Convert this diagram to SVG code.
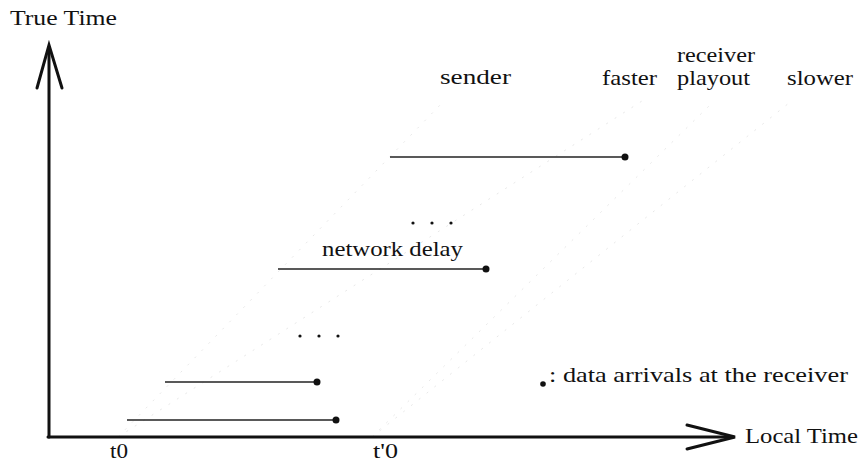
<svg xmlns="http://www.w3.org/2000/svg" width="865" height="463" viewBox="0 0 865 463">
<style>
text{font-family:"Liberation Serif","Times New Roman",serif;font-size:21px;fill:#111}
.axis{stroke:#111;stroke-width:3;fill:none;stroke-linecap:round;stroke-linejoin:miter}
.seg{stroke:#222;stroke-width:1.4;fill:none}
.faint{stroke:#e2e2e2;stroke-width:0.8;fill:none;stroke-dasharray:2 8}
.dot{fill:#111}
</style>
<rect width="865" height="463" fill="#fff"/>
<g id="connectors">
<line class="faint" x1="118" y1="437" x2="443" y2="102"/>
<line class="faint" x1="118" y1="437" x2="642" y2="101"/>
<line class="faint" x1="372" y1="437" x2="711" y2="104"/>
<line class="faint" x1="372" y1="437" x2="789" y2="103"/>
</g>
<g id="axes">
<line class="axis" x1="49" y1="437" x2="49" y2="47" stroke-width="2.5"/>
<polyline class="axis" points="37,88 49,45 62,88" stroke-width="2.5"/>
<line class="axis" x1="48" y1="437" x2="733" y2="437"/>
<polyline class="axis" points="687,425 735,437 687,449"/>
<text x="10" y="25" textLength="107" lengthAdjust="spacingAndGlyphs">True Time</text>
<text x="745" y="443" textLength="113" lengthAdjust="spacingAndGlyphs">Local Time</text>
<text x="110" y="458" font-size="20" textLength="18" lengthAdjust="spacingAndGlyphs">t0</text>
<text x="373" y="458" font-size="20" textLength="25" lengthAdjust="spacingAndGlyphs">t'0</text>
</g>
<g id="labels">
<text x="440" y="84" textLength="71" lengthAdjust="spacingAndGlyphs">sender</text>
<text x="602" y="85" textLength="55" lengthAdjust="spacingAndGlyphs">faster</text>
<text x="677" y="62" textLength="78" lengthAdjust="spacingAndGlyphs">receiver</text>
<text x="677" y="85" textLength="73" lengthAdjust="spacingAndGlyphs">playout</text>
<text x="787" y="85" textLength="66" lengthAdjust="spacingAndGlyphs">slower</text>
</g>
<g id="arrival-1">
<line class="seg" x1="127" y1="420" x2="336" y2="420"/>
<circle class="dot" cx="336" cy="420" r="3.5"/>
</g>
<g id="arrival-2">
<line class="seg" x1="165" y1="382" x2="317" y2="382"/>
<circle class="dot" cx="317" cy="382" r="3.5"/>
</g>
<g id="ellipsis-1">
<circle class="dot" cx="300" cy="336" r="1.6"/>
<circle class="dot" cx="319" cy="336" r="1.6"/>
<circle class="dot" cx="338" cy="336" r="1.6"/>
</g>
<g id="arrival-3">
<line class="seg" x1="278" y1="269" x2="486" y2="269"/>
<circle class="dot" cx="486" cy="269" r="3.5"/>
<text x="322" y="256" textLength="141" lengthAdjust="spacingAndGlyphs">network delay</text>
</g>
<g id="ellipsis-2">
<circle class="dot" cx="413" cy="223" r="1.6"/>
<circle class="dot" cx="432" cy="223" r="1.6"/>
<circle class="dot" cx="451" cy="223" r="1.6"/>
</g>
<g id="arrival-4">
<line class="seg" x1="390" y1="157" x2="625" y2="157"/>
<circle class="dot" cx="625" cy="157" r="3.5"/>
</g>
<g id="legend">
<circle class="dot" cx="543" cy="384" r="2.8"/>
<text x="549" y="382" textLength="299" lengthAdjust="spacingAndGlyphs">: data arrivals at the receiver</text>
</g>
</svg>
